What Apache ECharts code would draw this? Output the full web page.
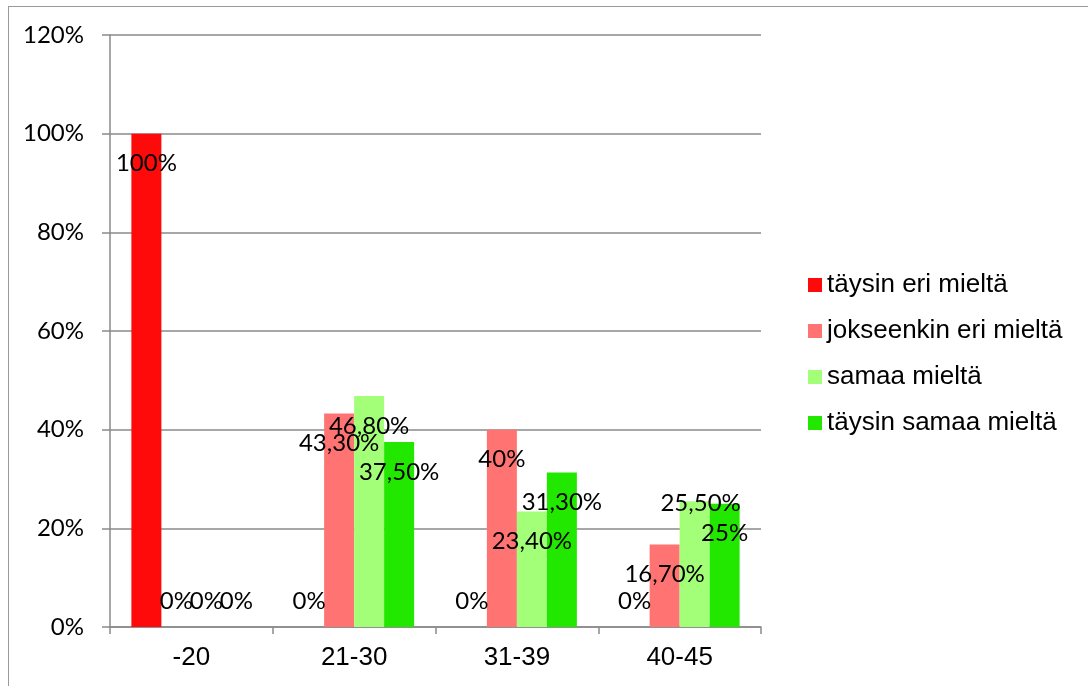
<!DOCTYPE html>
<html>
<head>
<meta charset="utf-8">
<script src="https://cdn.jsdelivr.net/npm/echarts@6/dist/echarts.min.js"></script>
<style>
  html, body { margin: 0; padding: 0; background: #ffffff; }
  #chart { width: 1088px; height: 686px; }
</style>
</head>
<body>
<div id="chart"></div>
<script>
// Age groups on the x axis
const categories = ['-20', '21-30', '31-39', '40-45'];

// Share of answers per age group (%)
const seriesNames = ['täysin eri mieltä', 'jokseenkin eri mieltä', 'samaa mieltä', 'täysin samaa mieltä'];
const taysinEri = [100, 0, 0, 0];
const jokseenkinEri = [0, 43.3, 40, 16.7];
const samaa = [0, 46.8, 23.4, 25.5];
const taysinSamaa = [0, 37.5, 31.3, 25];

// Y axis ticks
const yTicks = [0, 20, 40, 60, 80, 100, 120];

const seriesValues = [taysinEri, jokseenkinEri, samaa, taysinSamaa];
const colors = ['#ff0a0a', '#ff7373', '#a3ff78', '#22e800'];

// Finnish number format: whole numbers plain, others with two decimals and a comma
function fmt(v) {
  return Number.isInteger(v) ? v + '%' : v.toFixed(2).replace('.', ',') + '%';
}

const labelFont = { fontFamily: 'Lato', fontSize: 24, color: '#000000', lineHeight: 24 };

function buildData(values, seriesIndex) {
  return values.map((v, i) => {
    const label = Object.assign({ show: true, formatter: () => fmt(v) }, labelFont);
    if (v === 0) {
      label.position = 'top';
      label.distance = 14;
    } else {
      label.position = 'insideTop';
      label.distance = 18;
      // lift the light-green label in the last group clear of its neighbours
      if (seriesIndex === 2 && i === 3) {
        label.distance = -10;
        label.offset = [6, 0];
      }
    }
    return { value: v, label: label };
  });
}

const chart = echarts.init(document.getElementById('chart'), null, { renderer: 'canvas' });

chart.setOption({
  animation: false,
  backgroundColor: '#ffffff',
  graphic: [
    { type: 'line', shape: { x1: 8, y1: 6.5, x2: 1088, y2: 6.5 }, style: { stroke: '#9a9a9a', lineWidth: 1 } },
    { type: 'line', shape: { x1: 8.5, y1: 6, x2: 8.5, y2: 686 }, style: { stroke: '#9a9a9a', lineWidth: 1 } }
  ],
  legend: {
    orient: 'vertical',
    left: 803,
    top: 267,
    itemWidth: 14,
    itemHeight: 14,
    itemGap: 20,
    icon: 'rect',
    data: seriesNames,
    textStyle: { fontFamily: 'Liberation Sans', fontSize: 26, color: '#000000', lineHeight: 26 }
  },
  grid: { left: 110, right: 327, top: 35, bottom: 59, containLabel: false },
  xAxis: {
    type: 'category',
    data: categories,
    axisLine: { show: true, lineStyle: { color: '#8a8a8a', width: 1.5 } },
    axisTick: { show: true, alignWithLabel: false, length: 7, lineStyle: { color: '#8a8a8a', width: 1.5 } },
    axisLabel: { fontFamily: 'Liberation Sans', fontSize: 26, color: '#000000', margin: 18 },
    splitLine: { show: false }
  },
  yAxis: {
    type: 'value',
    min: yTicks[0],
    max: yTicks[yTicks.length - 1],
    interval: yTicks[1] - yTicks[0],
    axisLine: { show: true, lineStyle: { color: '#8a8a8a', width: 1.5 } },
    axisTick: { show: true, inside: false, length: 8, lineStyle: { color: '#8a8a8a', width: 1.5 } },
    axisLabel: { formatter: '{value}%', fontFamily: 'Lato', fontSize: 24, color: '#000000', margin: 26 },
    splitLine: { show: true, lineStyle: { color: '#8a8a8a', width: 1.5 } }
  },
  series: seriesNames.map((name, si) => ({
    name: name,
    type: 'bar',
    barWidth: 30,
    barGap: '0%',
    itemStyle: { color: colors[si] },
    data: buildData(seriesValues[si], si)
  }))
});
</script>
</body>
</html>
